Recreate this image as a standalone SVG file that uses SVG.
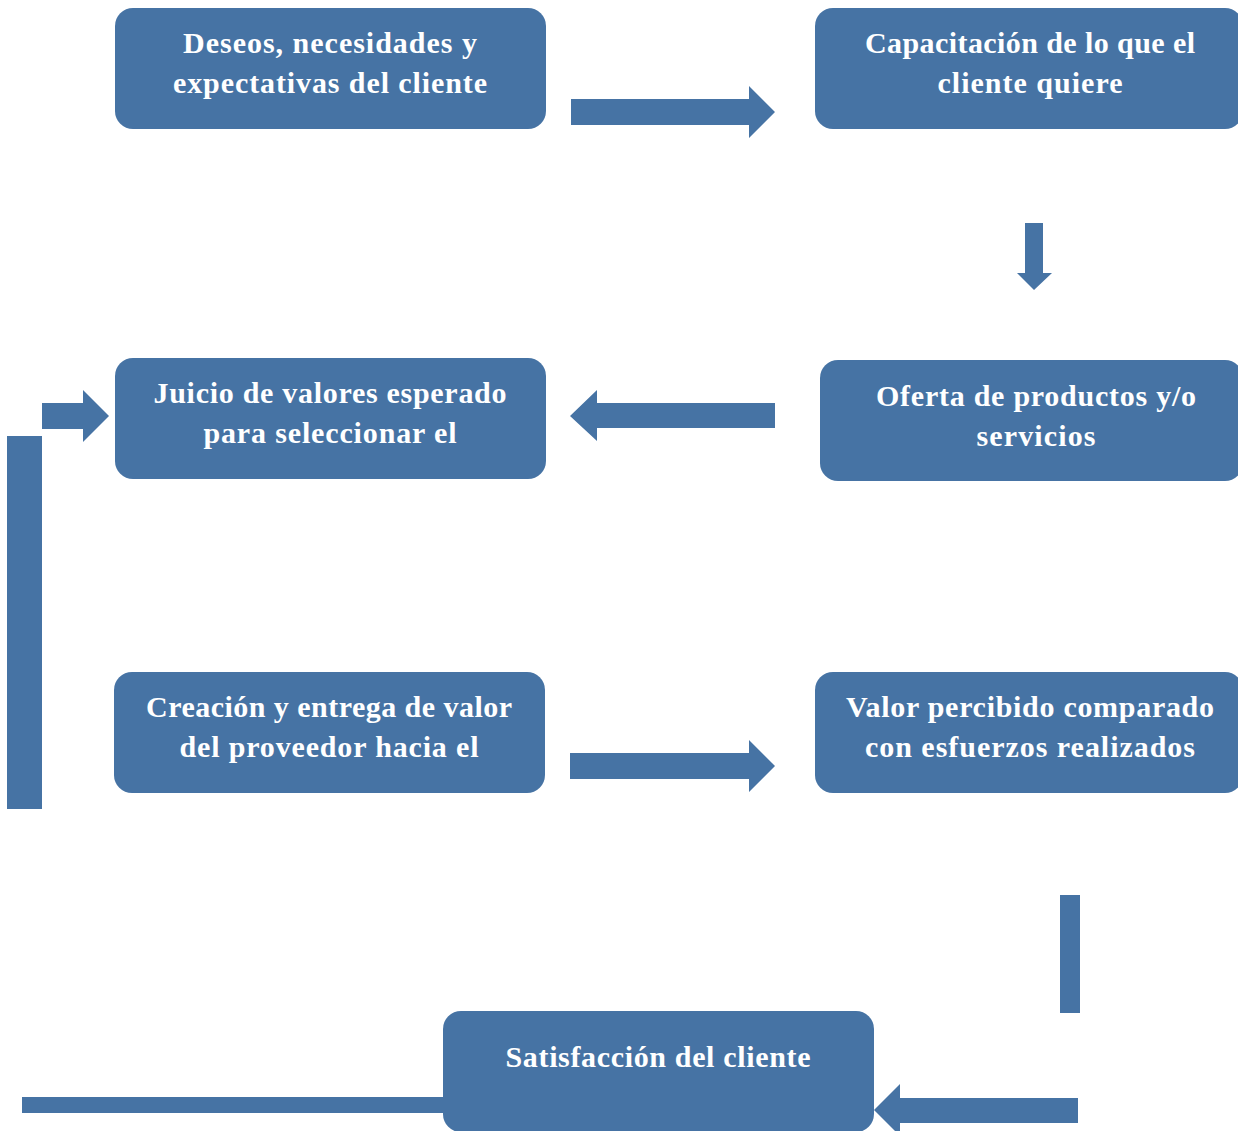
<svg xmlns="http://www.w3.org/2000/svg" width="1238" height="1131" viewBox="0 0 1238 1131">
<style>
.box{fill:#4673a4;}
.conn{fill:#4673a4;}
text{font-family:"Liberation Serif","DejaVu Serif",serif;font-weight:bold;font-size:30px;fill:#ffffff;text-anchor:middle;}
</style>
<rect width="1238" height="1131" fill="#ffffff"/>
<g id="connectors">
<polygon class="conn" points="571,99 749,99 749,86 775,112 749,138 749,125 571,125"/>
<polygon class="conn" points="1025,223 1043,223 1043,273 1052,273 1034,290 1017,273 1025,273"/>
<polygon class="conn" points="775,403 597,403 597,390 570,416 597,441 597,428 775,428"/>
<polygon class="conn" points="42,403 83,403 83,390 109,416 83,442 83,429 42,429"/>
<rect class="conn" x="7" y="436" width="35" height="373"/>
<polygon class="conn" points="570,753 749,753 749,740 775,766 749,792 749,779 570,779"/>
<rect class="conn" x="1060" y="895" width="20" height="118"/>
<rect class="conn" x="22" y="1097" width="425" height="16"/>
<polygon class="conn" points="1078,1098 900,1098 900,1084 874,1110 900,1136 900,1123 1078,1123"/>
</g>
<g id="node1">
<rect class="box" x="115" y="8" width="431" height="121" rx="18"/>
<text x="330" y="53" textLength="294" lengthAdjust="spacing">Deseos, necesidades y</text>
<text x="330" y="93" textLength="314" lengthAdjust="spacing">expectativas del cliente</text>
</g>
<g id="node2">
<rect class="box" x="815" y="8" width="428" height="121" rx="18"/>
<text x="1030" y="53" textLength="330" lengthAdjust="spacing">Capacitación de lo que el</text>
<text x="1030" y="93" textLength="185" lengthAdjust="spacing">cliente quiere</text>
</g>
<g id="node3">
<rect class="box" x="115" y="358" width="431" height="121" rx="18"/>
<text x="330" y="403" textLength="353" lengthAdjust="spacing">Juicio de valores esperado</text>
<text x="330" y="443" textLength="253" lengthAdjust="spacing">para seleccionar el</text>
</g>
<g id="node4">
<rect class="box" x="820" y="360" width="423" height="121" rx="18"/>
<text x="1036" y="406" textLength="320" lengthAdjust="spacing">Oferta de productos y/o</text>
<text x="1036" y="446" textLength="119" lengthAdjust="spacing">servicios</text>
</g>
<g id="node5">
<rect class="box" x="114" y="672" width="431" height="121" rx="18"/>
<text x="329" y="717" textLength="366" lengthAdjust="spacing">Creación y entrega de valor</text>
<text x="329" y="757" textLength="299" lengthAdjust="spacing">del proveedor hacia el</text>
</g>
<g id="node6">
<rect class="box" x="815" y="672" width="428" height="121" rx="18"/>
<text x="1030" y="717" textLength="368" lengthAdjust="spacing">Valor percibido comparado</text>
<text x="1030" y="757" textLength="330" lengthAdjust="spacing">con esfuerzos realizados</text>
</g>
<g id="node7">
<rect class="box" x="443" y="1011" width="431" height="121" rx="18"/>
<text x="658" y="1067" textLength="305" lengthAdjust="spacing">Satisfacción del cliente</text>
</g>
</svg>
